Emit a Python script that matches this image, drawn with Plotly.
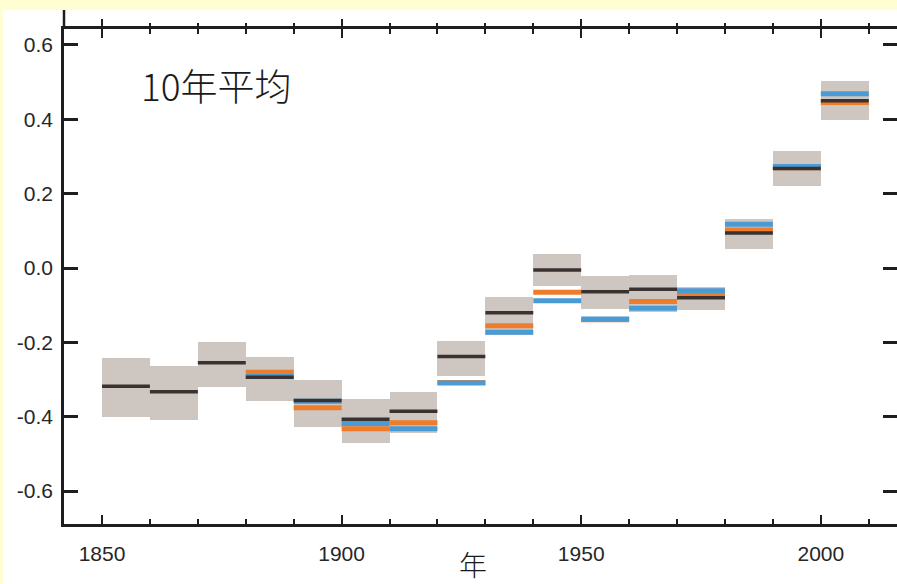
import plotly.graph_objects as go

decades = [1850, 1860, 1870, 1880, 1890, 1900, 1910, 1920, 1930, 1940, 1950, 1960, 1970, 1980, 1990, 2000]
box_low = [-0.400, -0.409, -0.320, -0.358, -0.427, -0.470, -0.443, -0.291, -0.179, -0.047, -0.111, -0.117, -0.114, 0.051, 0.222, 0.399]
box_high = [-0.242, -0.264, -0.200, -0.238, -0.300, -0.352, -0.334, -0.197, -0.077, 0.038, -0.021, -0.019, -0.050, 0.131, 0.316, 0.504]
black_vals = [-0.318, -0.333, -0.255, -0.294, -0.356, -0.407, -0.385, -0.238, -0.120, -0.005, -0.064, -0.057, -0.080, 0.094, 0.268, 0.450]
orange_vals = [None, None, None, -0.280, -0.376, -0.432, -0.416, -0.308, -0.155, -0.065, -0.139, -0.090, -0.070, 0.102, 0.270, 0.445]
blue_vals = [None, None, None, -0.292, -0.358, -0.418, -0.432, -0.309, -0.173, -0.088, -0.137, -0.108, -0.061, 0.118, 0.273, 0.469]
y_ticks = [-0.6, -0.4, -0.2, 0.0, 0.2, 0.4, 0.6]
y_ticktext = ["-0.6", "-0.4", "-0.2", "0.0", "0.2", "0.4", "0.6"]
decade_len = 10

BOX = "#cdc6c1"
BLACK = "#3a3230"
ORANGE = "#ee7d2b"
BLUE = "#4a9ad4"
AXIS = "#1e1e1e"


def steps(vals):
    xs, ys = [], []
    for d, v in zip(decades, vals):
        if v is None:
            continue
        xs += [d, d + decade_len, None]
        ys += [v, v, None]
    return xs, ys


fig = go.Figure()
fig.add_trace(go.Bar(
    x=[d + decade_len / 2 for d in decades],
    y=[h - l for h, l in zip(box_high, box_low)],
    base=box_low,
    width=decade_len,
    marker=dict(color=BOX, line=dict(width=0)),
    hoverinfo="skip",
))
for vals, col, w in [(orange_vals, ORANGE, 5), (blue_vals, BLUE, 5), (black_vals, BLACK, 3.5)]:
    xs, ys = steps(vals)
    fig.add_trace(go.Scatter(x=xs, y=ys, mode="lines", line=dict(color=col, width=w), hoverinfo="skip"))

# invisible trace for the overlay axes
fig.add_trace(go.Scatter(x=[2000], y=[0], xaxis="x2", yaxis="y2", mode="markers",
                         marker=dict(opacity=0), hoverinfo="skip"))

xr = [1842.07, 2015.9]
yr = [-0.6885, 0.643]
tickfont = dict(family="Liberation Sans, Arial, sans-serif", size=21, color="#262626")

fig.update_layout(
    width=897, height=584,
    margin=dict(l=64, r=0, t=29, b=60),
    paper_bgcolor="#fffdd2",
    plot_bgcolor="white",
    showlegend=False,
    bargap=0,
    xaxis=dict(
        range=xr, tickmode="linear", tick0=1850, dtick=50,
        ticks="inside", ticklen=9, tickwidth=2, tickcolor=AXIS,
        minor=dict(dtick=10, tick0=1850, ticks="inside", ticklen=5, tickwidth=2, tickcolor=AXIS, showgrid=False),
        showline=True, linewidth=2.5, linecolor=AXIS, mirror="ticks",
        showgrid=False, zeroline=False, tickfont=tickfont, ticklabelstandoff=9,
    ),
    xaxis2=dict(
        range=xr, overlaying="x", side="top", tickmode="linear", tick0=1850, dtick=50,
        ticks="outside", ticklen=9, tickwidth=2, tickcolor=AXIS,
        minor=dict(dtick=10, tick0=1850, ticks="outside", ticklen=5, tickwidth=2, tickcolor=AXIS, showgrid=False),
        showline=False, showgrid=False, zeroline=False, showticklabels=False,
    ),
    yaxis=dict(
        range=yr, tickmode="array", tickvals=y_ticks, ticktext=y_ticktext,
        ticks="inside", ticklen=14, tickwidth=2.5, tickcolor=AXIS,
        showline=True, linewidth=2.5, linecolor=AXIS,
        showgrid=False, zeroline=False, tickfont=tickfont, ticklabelstandoff=4,
    ),
    yaxis2=dict(
        range=yr, overlaying="y", side="right", tickmode="array", tickvals=y_ticks,
        ticks="inside", ticklen=14, tickwidth=2.5, tickcolor=AXIS,
        showline=False, showgrid=False, zeroline=False, showticklabels=False,
    ),
    shapes=[
        dict(type="rect", xref="paper", yref="paper", x0=-0.0732, x1=1.01, y0=-0.13, y1=1.0384,
             fillcolor="white", line=dict(width=0), layer="below"),
        dict(type="line", xref="paper", yref="paper", x0=0, x1=0, y0=1.0, y1=1.0384,
             line=dict(color=AXIS, width=2.5)),
    ],
    annotations=[
        dict(text="10年平均", xref="paper", yref="paper", x=0.0905, y=0.887,
             xanchor="left", yanchor="middle", showarrow=False,
             font=dict(family="Noto Sans CJK SC", size=37, color="#1a1a1a", weight=300)),
        dict(text="年", xref="paper", yref="paper", x=0.491, y=-0.081,
             xanchor="center", yanchor="middle", showarrow=False,
             font=dict(family="Noto Sans CJK SC", size=28, color="#1a1a1a", weight=300)),
    ],
)

fig.write_html("out.html")
